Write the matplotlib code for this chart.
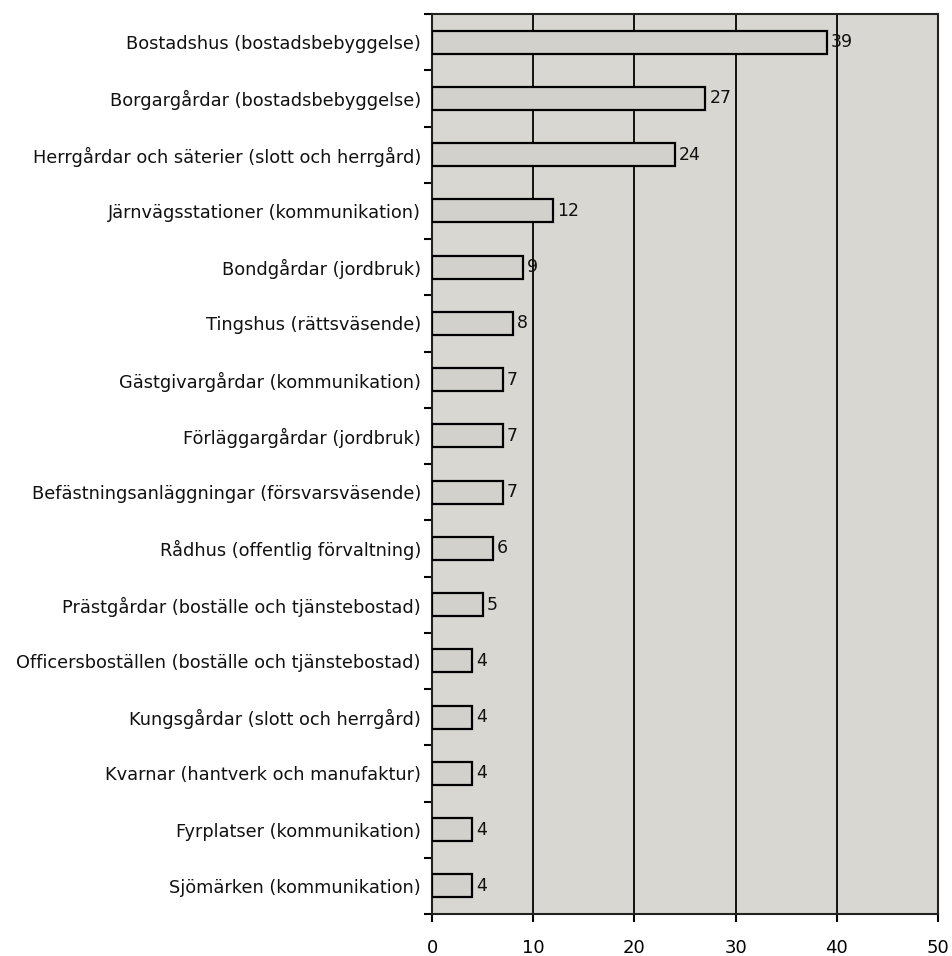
import matplotlib
matplotlib.use("Agg")
import matplotlib.pyplot as plt
import numpy as np

categories = [
    "Bostadshus (bostadsbebyggelse)",
    "Borgargårdar (bostadsbebyggelse)",
    "Herrgårdar och säterier (slott och herrgård)",
    "Järnvägsstationer (kommunikation)",
    "Bondgårdar (jordbruk)",
    "Tingshus (rättsväsende)",
    "Gästgivargårdar (kommunikation)",
    "Förläggargårdar (jordbruk)",
    "Befästningsanläggningar (försvarsväsende)",
    "Rådhus (offentlig förvaltning)",
    "Prästgårdar (boställe och tjänstebostad)",
    "Officersboställen (boställe och tjänstebostad)",
    "Kungsgårdar (slott och herrgård)",
    "Kvarnar (hantverk och manufaktur)",
    "Fyrplatser (kommunikation)",
    "Sjömärken (kommunikation)",
]
values = [39, 27, 24, 12, 9, 8, 7, 7, 7, 6, 5, 4, 4, 4, 4, 4]
xticks = [0, 10, 20, 30, 40, 50]

plt.rcParams['font.family'] = ['DejaVu Sans']

fig = plt.figure(figsize=(9.52, 9.56), dpi=100)
ax = fig.add_axes([432/952, 1-914/956, 506/952, 900/956])
ax.set_facecolor('#d9d7d2')

n = len(categories)
y = np.arange(n)
ax.barh(y, values, height=0.41, color='#d3d1cc', edgecolor='black', linewidth=1.6, zorder=3)
for yi, v in zip(y, values):
    ax.text(v + 0.4, yi, str(v), va='center', ha='left', fontsize=12.5, color='#111111', zorder=4)

ax.set_ylim(n - 0.5, -0.5)
ax.set_xlim(0, 50)
ax.set_yticks(y)
ax.set_yticklabels(categories, fontsize=12.8, color='#111111')
ax.tick_params(axis='y', which='major', length=0, pad=8)
ax.set_yticks(np.arange(-0.5, n, 1.0), minor=True)
ax.tick_params(axis='y', which='minor', length=6, width=1.5, direction='out')
ax.set_xticks(xticks)
ax.set_xticklabels([str(t) for t in xticks], fontsize=13)
ax.tick_params(axis='x', length=6, width=1.5, direction='out', pad=12)
for t in xticks[1:-1]:
    ax.axvline(t, color='#111111', linewidth=1.4, zorder=2)
for s in ax.spines.values():
    s.set_linewidth(1.5)
    s.set_color('#222222')

fig.savefig('out.png', dpi=100)
